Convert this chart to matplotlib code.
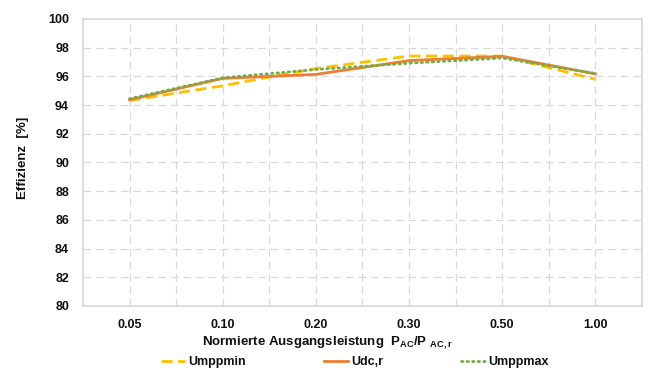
import matplotlib
matplotlib.use("Agg")
import matplotlib.pyplot as plt
import numpy as np

categories = ["0.05", "0.10", "0.20", "0.30", "0.50", "1.00"]
umppmin = [94.32, 95.35, 96.55, 97.42, 97.42, 95.80]
udcr = [94.37, 95.86, 96.14, 97.10, 97.40, 96.18]
umppmax = [94.45, 95.90, 96.48, 96.92, 97.28, 96.20]
yticks = [80, 82, 84, 86, 88, 90, 92, 94, 96, 98, 100]

plt.rcParams['font.family'] = ['Liberation Sans', 'DejaVu Sans']
plt.rcParams['font.weight'] = 'bold'
plt.rcParams['mathtext.fontset'] = 'custom'
plt.rcParams['mathtext.rm'] = 'Liberation Sans:bold'
plt.rcParams['mathtext.bf'] = 'Liberation Sans:bold'
plt.rcParams['mathtext.it'] = 'Liberation Sans:bold'

fig = plt.figure(figsize=(6.54, 3.72), dpi=100)
ax = fig.add_axes([83/654, 1-306/372, (642-83)/654, (306-19)/372])

x = np.arange(len(categories))
grid_c = '#D9D9D9'
for gx in np.arange(0, len(categories) - 0.5 + 0.01, 0.5):
    ax.axvline(gx, color=grid_c, lw=0.9, ls=(0, (6, 4)), zorder=1)
for gy in yticks[1:-1]:
    ax.axhline(gy, color=grid_c, lw=0.9, ls=(0, (6, 4)), zorder=1)

ax.plot(x, umppmin, color='#FFC000', lw=2.0, ls=(0, (4, 2)), label='Umppmin', zorder=3)
ax.plot(x, udcr, color='#ED7D31', lw=2.0, ls='-', label='Udc,r', zorder=4)
ax.plot(x, umppmax, color='#70AD47', lw=2.0, ls=(0, (0.5, 1.5)), dash_capstyle='round',
        label='Umppmax', zorder=5)

ax.set_xlim(-0.5, len(categories) - 0.5)
ax.set_ylim(80, 100)
ax.set_xticks(x)
ax.set_xticklabels(categories)
ax.set_yticks(yticks)
ax.set_yticklabels([str(v) for v in yticks])
ax.tick_params(axis='both', length=0, labelsize=9, colors='#111111')
ax.tick_params(axis='x', pad=9)
ax.tick_params(axis='y', pad=10)
for s in ax.spines.values():
    s.set_color('#D9D9D9')
    s.set_linewidth(1.3)

fig.text(23/654, 1-158/372, 'Effizienz  [%]', rotation=90, ha='center', va='center',
         fontsize=9.5, fontweight='bold', color='#111111')
fig.text(327/654, 1-343/372, r'Normierte Ausgangsleistung  $\mathregular{P_{AC}/P\ _{AC,r}}$',
         ha='center', va='center', fontsize=9.5, fontweight='bold', color='#111111')

leg = fig.legend(loc='center', bbox_to_anchor=(355/654, 1-362/372), ncol=3, frameon=False,
                 fontsize=9, handlelength=1.9, handletextpad=0.3, columnspacing=6.2)
for t in leg.get_texts():
    t.set_color('#111111')

fig.savefig('out.png', dpi=100)
